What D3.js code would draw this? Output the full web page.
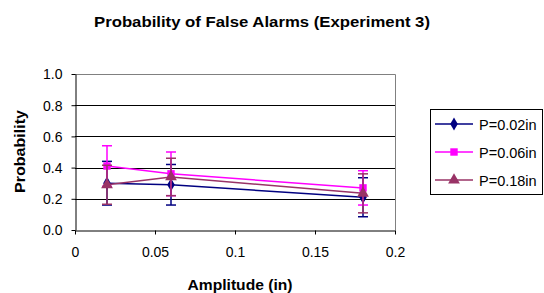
<!DOCTYPE html>
<html>
<head>
<meta charset="utf-8">
<script src="https://cdn.jsdelivr.net/npm/d3@7"></script>
<style>
  body { margin: 0; background: #fff; }
  svg { font-family: "Liberation Sans", Arial, sans-serif; }
</style>
</head>
<body>
<svg width="544" height="293"></svg>
<script>
// amplitude on the x axis
const amplitudes = [0.02, 0.06, 0.18];

// mean probability of false alarm and error bar half width, per series
const p002 = [0.30, 0.29, 0.21];
const err002 = [0.14, 0.13, 0.125];
const p006 = [0.41, 0.36, 0.27];
const err006 = [0.13, 0.14, 0.11];
const p018 = [0.29, 0.34, 0.235];
const err018 = [0.125, 0.12, 0.125];

const seriesNames = ['P=0.02in', 'P=0.06in', 'P=0.18in'];
const xTicks = [0, 0.05, 0.1, 0.15, 0.2];
const yTicks = [0, 0.2, 0.4, 0.6, 0.8, 1.0];

const colors = ['#000080', '#ff00ff', '#993366'];
const symbols = [d3.symbolDiamond, d3.symbolSquare, d3.symbolTriangle];
const symSizes = [50, 55, 60];

const series = [
	{ name: seriesNames[0], vals: p002, errs: err002 },
	{ name: seriesNames[1], vals: p006, errs: err006 },
	{ name: seriesNames[2], vals: p018, errs: err018 }
];

const margin = { top: 74, left: 75 };
const plotW = 320, plotH = 156;

const svg = d3.select('svg');

const x = d3.scaleLinear().domain([0, 0.2]).range([margin.left, margin.left + plotW]);
const y = d3.scaleLinear().domain([0, 1]).range([margin.top + plotH, margin.top]);

// gridlines
svg.append('g')
	.selectAll('line')
	.data(yTicks.filter(t => t > 0 && t < 1))
	.enter()
	.append('line')
	.attr('x1', x(0)).attr('x2', x(0.2))
	.attr('y1', d => Math.round(y(d)) + 0.5).attr('y2', d => Math.round(y(d)) + 0.5)
	.attr('stroke', '#000')
	.attr('stroke-width', 1);

// plot border (top + right)
svg.append('path')
	.attr('d', `M${x(0)},${Math.round(y(1)) + 0.5}H${Math.round(x(0.2)) + 0.5}V${y(0)}`)
	.attr('fill', 'none')
	.attr('stroke', '#808080');

const fmtX = d => d === 0 ? '0' : d3.format('')(d);

const xAxis = svg.append('g')
	.attr('transform', `translate(0,${Math.round(y(0)) + 0.5})`)
	.call(d3.axisBottom(x).tickValues(xTicks).tickFormat(fmtX).tickSize(4).tickSizeOuter(0));
xAxis.select('.domain').attr('stroke', '#000');
xAxis.selectAll('text')
	.attr('font-size', 14).attr('font-family', 'Liberation Sans, Arial').attr('fill', '#000')
	.attr('y', 26).attr('dy', 0);

const yAxis = svg.append('g')
	.attr('transform', `translate(${Math.round(x(0)) + 0.5},0)`)
	.call(d3.axisLeft(y).tickValues(yTicks).tickFormat(d3.format('.1f')).tickSize(4).tickSizeOuter(0));
yAxis.select('.domain').attr('stroke', '#000');
yAxis.selectAll('text')
	.attr('font-size', 14).attr('font-family', 'Liberation Sans, Arial').attr('fill', '#000')
	.attr('x', -13).attr('dy', '0.35em');

// lines, error bars, markers
const line = d3.line().x(d => x(d[0])).y(d => y(d[1]));

series.forEach((s, i) => {
	const pts = amplitudes.map((a, j) => [a, s.vals[j], s.errs[j]]);
	const g = svg.append('g');
	g.append('path')
		.attr('d', line(pts))
		.attr('fill', 'none')
		.attr('stroke', colors[i])
		.attr('stroke-width', 1.5);

	const eb = g.selectAll('g.err').data(pts).enter().append('g');
	eb.append('line')
		.attr('x1', d => x(d[0])).attr('x2', d => x(d[0]))
		.attr('y1', d => y(d[1] + d[2])).attr('y2', d => y(d[1] - d[2]))
		.attr('stroke', colors[i]).attr('stroke-width', 1.5);
	[1, -1].forEach(sg => {
		eb.append('line')
			.attr('x1', d => x(d[0]) - 5).attr('x2', d => x(d[0]) + 5)
			.attr('y1', d => y(d[1] + sg * d[2])).attr('y2', d => y(d[1] + sg * d[2]))
			.attr('stroke', colors[i]).attr('stroke-width', 1.5);
	});

	g.selectAll('path.mk')
		.data(pts)
		.enter()
		.append('path')
		.attr('d', d3.symbol().type(symbols[i]).size(symSizes[i]))
		.attr('transform', d => `translate(${x(d[0])},${y(d[1])})`)
		.attr('fill', colors[i]);
});

// titles
svg.append('text')
	.attr('x', 262).attr('y', 27)
	.attr('text-anchor', 'middle')
	.attr('font-size', 15).attr('font-weight', 'bold')
	.attr('textLength', 336).attr('lengthAdjust', 'spacingAndGlyphs')
	.text('Probability of False Alarms (Experiment 3)');

svg.append('text')
	.attr('x', 240).attr('y', 290)
	.attr('text-anchor', 'middle')
	.attr('font-size', 15).attr('font-weight', 'bold')
	.attr('textLength', 105).attr('lengthAdjust', 'spacingAndGlyphs')
	.text('Amplitude (in)');

svg.append('text')
	.attr('transform', 'translate(25,151.5) rotate(-90)')
	.attr('text-anchor', 'middle')
	.attr('font-size', 15).attr('font-weight', 'bold')
	.attr('textLength', 83).attr('lengthAdjust', 'spacingAndGlyphs')
	.text('Probability');

// legend
const leg = svg.append('g');
leg.append('rect')
	.attr('x', 430.5).attr('y', 109.5)
	.attr('width', 112).attr('height', 85)
	.attr('fill', '#fff').attr('stroke', '#000');

series.forEach((s, i) => {
	const ly = 124 + i * 28;
	leg.append('line')
		.attr('x1', 435).attr('x2', 473)
		.attr('y1', ly).attr('y2', ly)
		.attr('stroke', colors[i]).attr('stroke-width', 1.5);
	leg.append('path')
		.attr('d', d3.symbol().type(symbols[i]).size(symSizes[i]))
		.attr('transform', `translate(454,${ly})`)
		.attr('fill', colors[i]);
	leg.append('text')
		.attr('x', 479).attr('y', ly + 6)
		.attr('font-size', 14.5)
		.text(s.name);
});
</script>
</body>
</html>
